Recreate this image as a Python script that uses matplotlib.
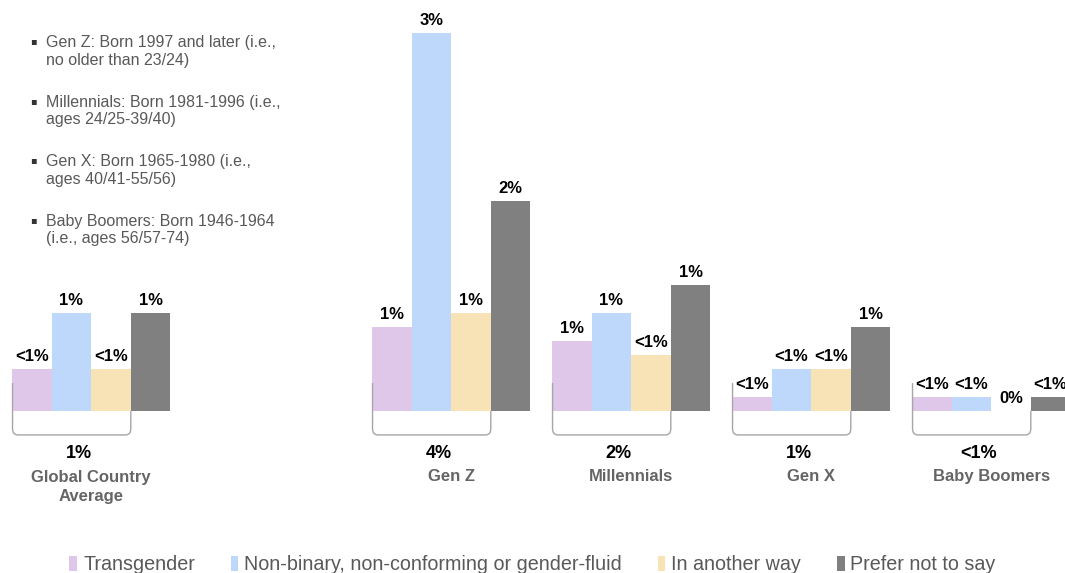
import numpy as np
import matplotlib
matplotlib.use("Agg")
import matplotlib.pyplot as plt
from matplotlib.path import Path
from matplotlib.patches import PathPatch, Patch

plt.rcParams['font.family'] = ['Liberation Sans', 'DejaVu Sans']

groups = ["Global Country\nAverage", "Gen Z", "Millennials", "Gen X", "Baby Boomers"]
series = ["Transgender", "Non-binary, non-conforming or gender-fluid",
          "In another way", "Prefer not to say"]
colors = ["#dfc7ea", "#bdd8fa", "#f7e3b5", "#808080"]

# share of respondents (%) per series, one entry per group
transgender = [0.3, 0.6, 0.5, 0.1, 0.1]
non_binary = [0.7, 2.7, 0.7, 0.3, 0.1]
another_way = [0.3, 0.7, 0.4, 0.3, 0.0]
prefer_not = [0.7, 1.5, 0.9, 0.6, 0.1]

transgender_lbl = ["<1%", "1%", "1%", "<1%", "<1%"]
non_binary_lbl = ["1%", "3%", "1%", "<1%", "<1%"]
another_way_lbl = ["<1%", "1%", "<1%", "<1%", "0%"]
prefer_not_lbl = ["1%", "2%", "1%", "1%", "<1%"]

totals_lbl = ["1%", "4%", "2%", "1%", "<1%"]

notes = [
    "Gen Z: Born 1997 and later (i.e.,\nno older than 23/24)",
    "Millennials: Born 1981-1996 (i.e.,\nages 24/25-39/40)",
    "Gen X: Born 1965-1980 (i.e.,\nages 40/41-55/56)",
    "Baby Boomers: Born 1946-1964\n(i.e., ages 56/57-74)",
]

values = [transgender, non_binary, another_way, prefer_not]
labels = [transgender_lbl, non_binary_lbl, another_way_lbl, prefer_not_lbl]

fig = plt.figure(figsize=(10.65, 5.73), dpi=100)
ax = fig.add_axes([0, 0, 1, 1])
ax.set_xlim(-12 / 180, 1053 / 180)
ax.set_ylim(-162 / 140, 411 / 140)
ax.axis("off")

pos = np.array([0, 2, 3, 4, 5], dtype=float)
w = 0.22

for i, (vals, lbls) in enumerate(zip(values, labels)):
    x = pos + i * w
    ax.bar(x, vals, width=w, align="edge", color=colors[i], label=series[i])
    for xi, v, t in zip(x, vals, lbls):
        ax.text(xi + w / 2, v + 0.06, t, ha="center", va="baseline",
                fontsize=12, fontweight="bold", color="black")

# brackets under the first three bars of each group
yb = -0.171
r = 0.045
for x0, tot, name in zip(pos, totals_lbl, groups):
    xl, xr = x0 + 0.003, x0 + 3 * w
    verts = [(xl, 0.2), (xl, yb + r), (xl, yb), (xl + 0.03, yb),
             (xr - 0.03, yb), (xr, yb), (xr, yb + r), (xr, 0.0)]
    codes = [Path.MOVETO, Path.LINETO, Path.CURVE3, Path.CURVE3,
             Path.LINETO, Path.CURVE3, Path.CURVE3, Path.LINETO]
    ax.add_patch(PathPatch(Path(verts, codes), fill=False,
                           edgecolor="#a6a6a6", lw=1.0))
    ax.text(x0 + 0.37, -0.336, tot, ha="center", va="baseline",
            fontsize=13, fontweight="bold", color="black")
    if "\n" in name:
        yc = -(487 - 411) / 140
    else:
        yc = -(477 - 411) / 140
    ax.text(x0 + 2 * w, yc, name, ha="center", va="center", fontsize=12,
            fontweight="bold", color="#656565", linespacing=1.4)

# generation definitions, top left
for k, note in enumerate(notes):
    yfig = 1 - (51.5 + 59.5 * k) / 573
    fig.text(33 / 1065, yfig + 10 / 573, "\u25aa", ha="center", va="center",
             fontsize=7, color="#333333", family="DejaVu Sans")
    fig.text(46 / 1065, yfig, note, ha="left", va="center", fontsize=11.5,
             color="#595959", linespacing=1.2)

handles = [Patch(facecolor=c, edgecolor="none") for c in colors]
fig.legend(handles, series, loc="center", bbox_to_anchor=(0.5, 8 / 573),
           ncol=4, frameon=False, fontsize=14.2, handlelength=0.4,
           handleheight=0.8, handletextpad=0.3, columnspacing=1.8,
           labelcolor="#595959")

fig.savefig("out.png", dpi=100)
